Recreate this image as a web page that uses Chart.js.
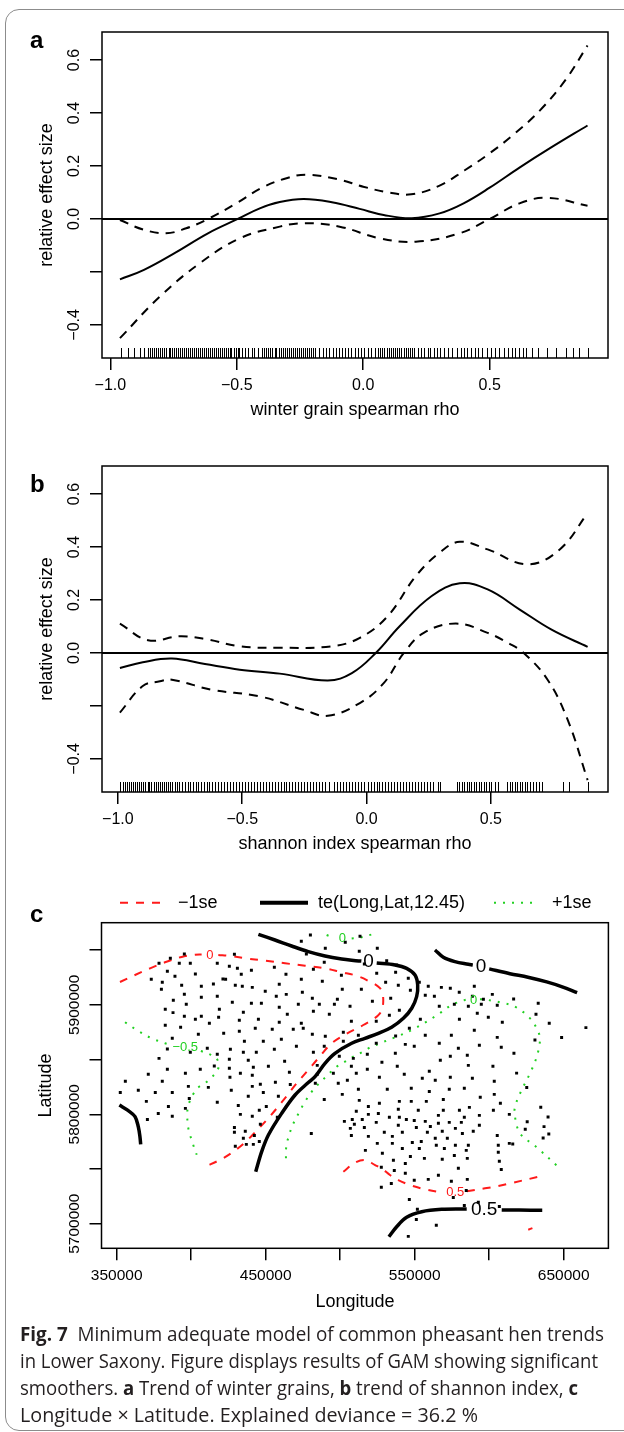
<!DOCTYPE html>
<html>
<head>
<meta charset="utf-8">
<script src="https://cdn.jsdelivr.net/npm/chart.js@4.4.1/dist/chart.umd.min.js"></script>
<style>
  html, body { margin: 0; padding: 0; background: #fff; }
  #page { position: relative; width: 624px; height: 1432px; overflow: hidden; }
  #frame { position: absolute; left: 5px; top: 9px; width: 700px; height: 1422px; box-sizing: border-box;
           border: 1.5px solid #8c8c8c; border-radius: 14px; }
  canvas { position: absolute; left: 0; }
  .tag { position: absolute; left: 30px; font: bold 24px "Liberation Sans", Arial, sans-serif; line-height: 24px; }
  .cap { position: absolute; left: 20px; font-family: "Open Sans", "Noto Sans", sans-serif; font-size: 20px;
         line-height: 20px; white-space: nowrap; transform-origin: 0 50%; color: #231f20; }
  .cap b { font-weight: 700; }
</style>
</head>
<body>
<div id="page">
  <div id="frame"></div>
  <canvas id="chartA" width="624" height="430" style="top:0"></canvas>
  <canvas id="chartB" width="624" height="430" style="top:434px"></canvas>
  <canvas id="chartC" width="624" height="460" style="top:860px"></canvas>
  <div class="tag" style="top:28px">a</div>
  <div class="tag" style="top:472px">b</div>
  <div class="tag" style="top:902px">c</div>
  <div class="cap" id="cap1" style="top:1324px"><b>Fig. 7</b>&nbsp; Minimum adequate model of common pheasant hen trends</div>
  <div class="cap" id="cap2" style="top:1351px">in Lower Saxony. Figure displays results of GAM showing significant</div>
  <div class="cap" id="cap3" style="top:1378px">smoothers. <b>a</b> Trend of winter grains, <b>b</b> trend of shannon index, <b>c</b></div>
  <div class="cap" id="cap4" style="top:1405px">Longitude × Latitude. Explained deviance = 36.2 %</div>
</div>
<script>
// ---- panel a: winter grain spearman rho ----
const xTicksEffect = [-1.0, -0.5, 0.0, 0.5];
const yTicksEffect = [-0.4, -0.2, 0.0, 0.2, 0.4, 0.6];

const winterFit = [[-0.962,-0.228],[-0.867,-0.192],[-0.741,-0.126],[-0.614,-0.054],[-0.496,0.0],[-0.409,0.040],
  [-0.330,0.064],[-0.235,0.075],[-0.124,0.063],[-0.014,0.038],[0.081,0.015],[0.192,0.003],[0.302,0.021],
  [0.397,0.059],[0.500,0.118],[0.618,0.194],[0.745,0.271],[0.887,0.353]];
const winterUpper = [[-0.962,-0.004],[-0.87,-0.040],[-0.78,-0.054],[-0.70,-0.035],[-0.614,0.0],[-0.50,0.060],
  [-0.40,0.118],[-0.30,0.155],[-0.22,0.167],[-0.10,0.150],[0.0,0.122],[0.10,0.100],[0.19,0.093],[0.30,0.125],
  [0.40,0.183],[0.50,0.248],[0.60,0.323],[0.70,0.411],[0.80,0.525],[0.887,0.655]];
const winterLower = [[-0.962,-0.450],[-0.804,-0.293],[-0.646,-0.167],[-0.488,-0.073],[-0.330,-0.029],[-0.235,-0.016],
  [-0.093,-0.029],[0.065,-0.073],[0.208,-0.086],[0.381,-0.054],[0.5,0.0],[0.618,0.059],[0.729,0.080],[0.887,0.050]];
const winterRug = [-0.958,-0.930,-0.907,-0.884,-0.866,-0.851,-0.843,-0.836,-0.826,-0.818,-0.811,-0.802,-0.795,-0.786,
  -0.779,-0.770,-0.763,-0.755,-0.747,-0.739,-0.733,-0.724,-0.716,-0.708,-0.701,-0.692,-0.684,-0.677,-0.669,-0.661,
  -0.652,-0.646,-0.637,-0.630,-0.621,-0.614,-0.606,-0.598,-0.590,-0.583,-0.575,-0.567,-0.560,-0.551,-0.544,-0.536,
  -0.528,-0.521,-0.512,-0.505,-0.497,-0.490,-0.478,-0.466,-0.455,-0.441,-0.430,-0.418,-0.402,-0.392,-0.384,-0.375,
  -0.367,-0.359,-0.350,-0.343,-0.335,-0.326,-0.319,-0.311,-0.302,-0.295,-0.287,-0.278,-0.271,-0.262,-0.255,-0.247,
  -0.238,-0.231,-0.223,-0.214,-0.207,-0.199,-0.190,-0.176,-0.160,-0.148,-0.135,-0.120,-0.108,-0.095,-0.082,-0.072,
  -0.060,-0.047,-0.032,-0.020,-0.008,0.004,0.018,0.031,0.046,0.060,0.068,0.076,0.084,0.093,0.101,0.110,0.118,0.126,
  0.135,0.143,0.151,0.160,0.168,0.176,0.185,0.193,0.202,0.215,0.229,0.241,0.255,0.266,0.280,0.292,0.305,0.318,0.334,
  0.352,0.370,0.385,0.398,0.412,0.426,0.441,0.455,0.470,0.488,0.506,0.520,0.538,0.556,0.573,0.590,0.602,0.615,0.631,
  0.645,0.668,0.690,0.726,0.762,0.800,0.830,0.855,0.887];

// ---- panel b: shannon index spearman rho ----
const shannonFit = [[-0.992,-0.057],[-0.90,-0.035],[-0.783,-0.021],[-0.65,-0.042],[-0.51,-0.063],[-0.349,-0.078],
  [-0.156,-0.104],[-0.059,-0.076],[0.037,0.0],[0.133,0.101],[0.262,0.215],[0.375,0.263],[0.487,0.240],[0.616,0.164],
  [0.744,0.088],[0.889,0.023]];
const shannonUpper = [[-0.992,0.111],[-0.879,0.048],[-0.751,0.063],[-0.638,0.051],[-0.510,0.025],[-0.349,0.020],
  [-0.14,0.025],[-0.027,0.057],[0.085,0.139],[0.198,0.290],[0.294,0.379],[0.375,0.420],[0.487,0.391],[0.648,0.335],
  [0.777,0.391],[0.889,0.528]];
const shannonLower = [[-0.992,-0.225],[-0.90,-0.125],[-0.831,-0.107],[-0.783,-0.101],[-0.622,-0.139],[-0.429,-0.164],
  [-0.252,-0.215],[-0.156,-0.237],[-0.027,-0.189],[0.069,-0.114],[0.150,0.0],[0.230,0.076],[0.359,0.111],[0.487,0.076],
  [0.568,0.038],[0.632,0.0],[0.728,-0.101],[0.809,-0.253],[0.889,-0.480]];
const shannonRug = [-0.990,-0.981,-0.973,-0.965,-0.956,-0.948,-0.940,-0.931,-0.923,-0.915,-0.906,-0.898,-0.890,-0.881,
  -0.873,-0.865,-0.856,-0.848,-0.840,-0.831,-0.823,-0.815,-0.806,-0.798,-0.790,-0.781,-0.772,-0.763,-0.753,-0.742,
  -0.731,-0.720,-0.709,-0.698,-0.687,-0.676,-0.665,-0.654,-0.643,-0.632,-0.621,-0.610,-0.598,-0.586,-0.574,-0.562,
  -0.550,-0.538,-0.526,-0.514,-0.502,-0.490,-0.478,-0.466,-0.454,-0.442,-0.430,-0.418,-0.406,-0.394,-0.382,-0.370,
  -0.358,-0.346,-0.334,-0.322,-0.310,-0.298,-0.286,-0.274,-0.262,-0.250,-0.238,-0.226,-0.214,-0.202,-0.190,-0.178,
  -0.166,-0.150,-0.132,-0.120,-0.108,-0.096,-0.084,-0.072,-0.060,-0.048,-0.036,-0.024,-0.012,0.004,0.016,0.028,0.040,
  0.052,0.064,0.076,0.088,0.100,0.112,0.124,0.136,0.148,0.160,0.172,0.184,0.196,0.208,0.220,0.232,0.244,0.256,0.268,
  0.286,0.295,0.362,0.372,0.382,0.392,0.402,0.412,0.422,0.432,0.442,0.452,0.462,0.472,0.482,0.492,0.502,0.515,0.528,
  0.566,0.576,0.586,0.596,0.606,0.616,0.626,0.636,0.646,0.656,0.668,0.680,0.693,0.706,0.790,0.815,0.889];

// ---- panel c: te(Long,Lat) contours, in km ----
const lonTicks = [350000, 400000, 450000, 500000, 550000, 600000, 650000];
const lonLabelled = [350000, 450000, 550000, 650000];
const latTicks = [5700000, 5750000, 5800000, 5850000, 5900000, 5950000];
const latLabelled = [5700000, 5800000, 5900000];

const teCentralA = [[445.1,5964.5],[456.2,5959.3],[467.4,5953.8],[478.6,5948.7],[489.8,5944.7],[501.0,5941.9],[509.0,5940.6],[514.2,5940.0]];
const teCentralB = [[524.5,5938.2],[536.8,5936.5],[544.6,5933.4],[550.2,5927.3],[552.0,5918.2],[551.3,5907.5],[548.0,5896.9],
  [542.4,5887.7],[534.5,5879.5],[525.6,5874.0],[516.6,5869.4],[507.7,5864.9],[496.5,5855.7],[489.8,5846.6],[483.1,5834.4],
  [478.6,5829.0],[469.7,5817.6],[460.7,5800.8],[451.8,5781.0],[447.3,5765.8],[443.3,5747.5]];
const teEastA = [[563.6,5950.2],[569.2,5943.5],[577.0,5939.5],[586.0,5937.1],[589.0,5936.4]];
const teEastB = [[600.0,5932.9],[613.9,5928.5],[626.0,5925.3],[638.6,5921.0],[649.0,5916.5],[659.0,5911.1]];
const teWest = [[351.8,5808.4],[357.8,5803.3],[362.3,5797.8],[364.5,5788.6],[365.6,5779.5],[366.1,5772.5]];
const teSouthA = [[532.7,5688.1],[537.9,5697.2],[544.6,5705.8],[554.7,5710.9],[568.1,5713.1],[584.9,5713.4]];
const teSouthB = [[608.4,5712.6],[620.0,5712.4],[635.6,5712.3]];

const lowNorthA = [[352.2,5920.9],[362.3,5927.3],[372.4,5933.4],[382.4,5938.9],[393.6,5943.8],[402.6,5945.9],[407.0,5946.1]];
const lowNorthB = [[418.2,5945.6],[426.0,5944.7],[436.1,5942.6],[449.5,5940.4],[463.0,5938.0],[476.4,5935.8],[489.8,5933.4],
  [501.0,5929.8],[510.0,5927.0],[517.8,5922.7],[526.7,5915.2],[528.9,5904.5],[526.7,5892.3],[515.5,5881.6],[504.3,5873.7],
  [494.3,5864.9],[485.3,5851.2],[478.6,5840.5],[470.8,5828.3],[464.1,5816.7],[457.4,5805.4],[450.6,5794.7],[443.9,5785.0],
  [436.6,5774.9],[428.3,5765.8],[420.4,5759.1],[410.4,5752.7],[408.1,5751.5]];
const lowSouthA = [[502.1,5747.5],[509.9,5755.7],[516.6,5758.2],[523.4,5753.6],[527.8,5750.6],[533.4,5744.5],[539.0,5739.9],
  [546.8,5735.3],[556.9,5731.4],[565.9,5729.2],[569.5,5729.0]];
const lowSouthB = [[585.0,5729.6],[597.2,5732.3],[606.1,5734.4],[613.9,5736.8],[635.4,5743.6]];
const lowTiny = [[626.2,5694.5],[629.0,5696.0]];

const upNorthA = [[490.9,5963.9],[495.4,5961.5]];
const upNorthB = [[507.7,5960.6],[513.3,5961.5],[519.5,5963.7],[523.0,5965.0]];
const upWestA = [[355.6,5884.1],[364.5,5876.1],[373.5,5869.4],[382.4,5864.9],[386.0,5863.5]];
const upWestB = [[406.5,5857.8],[411.9,5855.1],[416.4,5851.8],[418.7,5845.7],[417.1,5839.0],[413.7,5833.8],[409.5,5828.7],
  [404.8,5824.6],[401.4,5818.5],[399.2,5812.4],[397.6,5805.4],[397.4,5798.4],[397.6,5791.1],[398.7,5783.5],[400.3,5776.5],
  [401.9,5769.8],[403.7,5763.0]];
const upEastA = [[463.6,5759.7],[463.6,5767.3],[464.3,5774.3],[465.9,5781.6],[467.4,5788.0],[469.7,5794.7],[472.3,5801.4],
  [474.8,5807.8],[477.5,5813.9],[480.4,5819.7],[483.7,5825.2],[487.6,5830.5],[492.0,5836.5],[497.6,5843.5],[503.2,5848.1],
  [508.8,5852.7],[514.4,5856.6],[518.9,5860.3],[527.8,5865.5],[537.9,5870.9],[548.0,5877.0],[556.9,5883.8],[565.9,5891.4],
  [574.8,5899.9],[583.8,5904.5],[585.3,5904.8]];
const upEastB = [[593.8,5905.1],[596.1,5905.1],[602.8,5903.6],[608.4,5902.0],[617.3,5898.3],[627.4,5887.7],[632.9,5875.5],
  [634.1,5867.9],[631.9,5852.6],[627.4,5837.5],[621.8,5822.2],[618.0,5810.0],[617.0,5800.9],[620.7,5782.6],[631.4,5770.4],
  [646.2,5752.1]];

const contourLabels = [
  {text: '0', lon: 519.0, lat: 5939.0, kind: 'te'},
  {text: '0', lon: 594.5, lat: 5934.6, kind: 'te'},
  {text: '0.5', lon: 596.6, lat: 5712.5, kind: 'te'},
  {text: '0', lon: 412.6, lat: 5945.6, kind: 'low'},
  {text: '0.5', lon: 577.2, lat: 5728.8, kind: 'low'},
  {text: '0', lon: 501.5, lat: 5960.8, kind: 'up'},
  {text: '−0.5', lon: 396.0, lat: 5860.9, kind: 'up'},
  {text: '0', lon: 589.5, lat: 5904.5, kind: 'up'}
];

// sampling sites (km)
const sites = [
  [395.4,5946.5],[386.0,5942.6],[378.4,5938.0],[392.0,5938.0],[399.4,5938.0],[417.5,5938.0],[384.0,5930.7],[402.8,5928.2],
  [373.2,5923.4],[389.1,5926.1],[380.6,5920.6],[393.6,5917.9],[406.8,5917.0],[414.9,5919.1],[421.3,5923.7],[380.0,5914.2],
  [395.4,5909.7],[406.8,5906.9],[417.5,5907.8],[388.0,5904.2],[396.7,5900.5],[382.6,5896.0],[418.9,5896.0],[387.8,5892.9],
  [395.4,5889.5],[402.8,5886.8],[406.8,5889.5],[418.4,5888.6],[412.2,5883.1],[382.6,5881.3],[392.9,5879.5],[404.8,5873.1],
  [421.8,5874.0],[387.3,5869.4],[384.0,5859.7],[410.8,5860.3],[399.4,5856.6],[417.5,5854.8],[378.4,5851.1],[415.5,5844.1],
  [384.0,5841.1],[406.1,5841.1],[371.2,5836.5],[396.1,5837.4],[380.6,5830.1],[355.8,5830.1],
  [398.1,5825.5],[411.5,5824.6],[352.4,5820.0],[364.5,5821.9],[375.9,5820.0],[387.3,5820.0],[398.7,5814.5],[369.9,5811.8],
  [384.7,5807.2],[396.1,5805.4],[417.5,5810.9],[377.9,5800.8],[387.3,5798.1],[370.6,5795.3],
  [480.0,5963.9],[473.9,5958.1],[503.4,5957.2],[513.3,5962.7],[490.0,5951.7],[477.3,5946.5],[512.8,5949.0],[489.3,5938.9],
  [516.2,5937.4],[429.0,5946.2],[425.6,5935.2],[431.0,5933.4],[440.4,5931.6],[455.8,5934.3],[482.0,5932.5],[433.6,5927.9],
  [463.6,5927.9],[500.8,5927.0],[423.1,5923.4],[473.9,5923.4],[488.0,5921.5],[429.6,5917.9],[434.3,5917.0],[441.0,5916.0],
  [459.1,5918.8],[449.7,5912.4],[463.8,5909.6],[474.6,5911.5],[501.4,5914.2],[514.2,5914.2],[457.1,5907.8],[481.3,5906.0],
  [498.1,5905.1],[427.6,5902.3],[440.4,5901.4],[447.1,5901.4],[459.1,5897.8],[471.9,5900.5],[486.0,5900.5],[496.1,5900.5],
  [506.6,5898.7],[435.0,5893.2],[482.0,5894.1],[492.7,5891.4],[464.5,5891.4],[432.3,5885.9],[445.1,5886.8],[459.1,5884.1],
  [507.5,5885.0],[473.9,5883.1],[443.0,5878.6],[454.4,5877.7],[468.5,5877.7],[475.2,5878.6],[432.3,5875.8],[481.3,5873.2],
  [490.0,5871.3],[502.1,5874.9],[512.2,5872.2],[435.7,5866.7],[448.4,5866.7],[460.5,5868.5],[470.6,5862.1],[489.3,5862.1],
  [502.1,5866.7],[426.3,5859.4],[435.0,5856.6],[443.7,5856.6],[455.8,5859.4],[482.0,5856.6],[499.4,5853.0],[508.8,5851.1],
  [425.6,5850.2],[438.3,5849.3],[462.7,5848.4],[425.6,5842.0],[441.7,5842.9],[451.8,5843.8],[465.9,5838.4],[484.6,5844.7],
  [507.5,5843.8],[433.0,5837.4],[441.0,5835.6],[426.0,5833.8],[456.5,5829.2],[446.4,5827.4],[498.7,5828.3],[504.8,5831.0],
  [510.8,5837.4],[484.6,5836.5],[495.4,5837.4],
  [524.9,5951.7],[531.2,5940.4],[537.9,5936.5],[524.5,5928.8],[537.2,5929.8],[530.5,5920.6],[545.7,5924.3],[553.1,5920.6],
  [539.0,5917.9],[547.1,5913.3],[559.1,5917.0],[567.9,5916.0],[573.9,5915.1],[579.9,5911.5],[590.0,5917.0],[557.1,5908.7],
  [563.2,5907.8],[521.6,5903.3],[533.9,5906.0],[588.7,5907.8],[596.1,5905.1],[602.1,5909.6],[566.5,5898.7],[576.6,5900.5],
  [586.0,5898.7],[594.7,5900.5],[605.4,5899.6],[539.7,5895.0],[533.0,5890.5],[592.0,5892.3],[599.4,5888.6],[524.2,5885.0],
  [553.8,5886.8],[580.0,5886.8],[608.8,5884.1],[546.4,5878.6],[590.0,5876.7],[537.2,5871.6],[557.1,5872.2],[574.6,5872.2],
  [605.4,5870.3],[543.7,5863.9],[549.7,5862.1],[566.5,5864.9],[593.4,5863.0],[608.1,5861.2],[524.2,5864.9],[518.2,5854.8],
  [537.0,5855.7],[579.3,5860.3],[585.3,5853.9],[528.0,5847.5],[538.3,5843.8],[567.2,5849.3],[573.9,5853.0],[602.5,5843.8],
  [518.2,5841.1],[586.0,5844.7],[526.3,5833.8],[543.0,5836.5],[559.8,5839.3],[555.1,5832.9],[563.8,5831.0],[573.9,5833.8],
  [588.7,5832.9],[603.4,5830.1],
  [426.9,5821.9],[441.0,5825.5],[466.5,5827.3],[483.3,5828.3],[438.3,5816.4],[448.4,5820.0],[458.5,5816.4],[431.6,5808.1],
  [450.4,5807.2],[445.7,5803.6],[433.0,5799.9],[441.0,5798.1],[457.8,5797.2],[446.4,5790.8],[429.0,5788.0],[429.0,5783.5],
  [436.3,5784.4],[442.4,5780.7],[435.0,5778.0],[437.0,5772.5],[441.7,5772.5],[445.7,5775.2],[429.6,5770.7],[480.6,5782.5],
  [489.3,5813.6],[501.4,5818.2],[512.2,5822.8],[512.8,5812.7],[510.8,5802.7],[502.8,5793.5],[508.1,5795.3],[514.8,5795.3],
  [509.5,5790.8],[506.8,5787.1],[516.2,5788.0],[507.5,5780.7],
  [531.6,5822.8],[547.7,5823.7],[573.2,5822.8],[583.3,5823.7],[559.8,5820.9],[603.4,5818.2],[594.0,5815.5],[539.7,5811.8],
  [526.3,5810.0],[547.7,5811.8],[557.8,5811.8],[569.2,5813.6],[607.5,5810.0],[518.9,5807.2],[586.7,5806.3],[602.8,5803.6],
  [539.0,5804.5],[552.4,5803.6],[569.2,5803.6],[580.0,5803.6],[518.9,5799.9],[525.6,5800.8],[533.0,5797.2],[539.7,5797.2],
  [544.4,5795.3],[549.7,5794.4],[557.1,5793.5],[565.9,5799.0],[583.3,5797.2],[593.4,5799.0],[613.5,5799.9],[524.2,5792.6],
  [539.0,5789.9],[551.1,5788.0],[560.5,5788.9],[565.9,5791.7],[573.2,5792.6],[581.3,5792.6],[593.4,5789.9],[529.6,5783.5],
  [541.7,5783.5],[558.5,5783.5],[568.5,5784.4],[577.3,5787.1],[582.0,5782.5],[589.3,5784.4],[605.4,5780.7],[518.9,5779.8],
  [535.0,5779.8],[563.8,5778.0],[571.9,5778.0],[554.4,5775.2],[524.9,5773.4],[535.0,5773.4],[548.4,5774.3],[564.5,5771.6],
  [569.9,5768.8],[577.3,5771.6],[586.0,5771.6],[606.1,5771.6],[613.5,5773.4],[516.9,5767.0],[541.7,5768.8],[553.1,5768.8],
  [584.6,5767.0],[606.1,5765.2],[528.3,5764.3],[547.1,5761.5],[556.5,5759.7],[568.5,5758.8],[576.6,5762.4],[585.3,5759.7],
  [606.8,5757.0],[535.7,5757.9],[543.7,5755.1],[608.1,5749.6],[527.6,5751.5],[536.3,5748.7],[579.3,5750.6],[543.7,5746.0],
  [565.9,5744.2],[549.7,5739.6],[559.1,5740.5],[574.6,5738.7],[585.3,5740.5],[534.3,5736.8],[527.6,5733.2],[584.6,5730.4],
  [546.4,5722.2],[575.9,5724.0],[551.8,5713.1],[583.3,5716.7],[592.7,5719.5],[606.8,5715.8],[551.1,5703.9],[564.5,5698.5],
  [545.7,5688.4],
  [616.4,5905.4],[632.9,5901.4],[631.4,5891.4],[640.3,5883.2],[630.7,5867.9],[648.6,5870.1],[664.9,5879.2],[618.4,5837.6],
  [625.2,5824.4],[616.6,5855.7],[634.6,5806.4],[639.5,5797.5],[636.8,5788.7],[640.0,5782.0],[636.2,5778.3],[625.5,5793.2],
  [624.2,5786.3],[615.8,5772.9]
];

// ---------------------------------------------------------------
Chart.defaults.font.family = '"Liberation Sans", Arial, Helvetica, sans-serif';
Chart.defaults.color = '#000';

const RED = '#ff1a1a';
const GREEN = '#22d022';
const minus = s => s.replace('-', '\u2212');
const pts = arr => arr.map(p => ({x: p[0], y: p[1]}));
const kmPts = arr => arr.map(p => ({x: p[0] * 1000, y: p[1] * 1000}));

// box, rug and zero line as R's plot.gam draws them
const rFrame = {
  id: 'rFrame',
  afterDatasetsDraw(chart, args, opts) {
    const {ctx, chartArea: a, scales} = chart;
    ctx.save();
    ctx.strokeStyle = '#000';
    if (opts.zeroLine) {
      const y = scales.y.getPixelForValue(0);
      ctx.lineWidth = 2;
      ctx.beginPath();
      ctx.moveTo(a.left, y);
      ctx.lineTo(a.right, y);
      ctx.stroke();
    }
    if (opts.rug) {
      ctx.lineWidth = 1;
      ctx.beginPath();
      opts.rug.forEach(v => {
        const x = Math.round(scales.x.getPixelForValue(v)) + 0.5;
        ctx.moveTo(x, a.bottom);
        ctx.lineTo(x, a.bottom - 10);
      });
      ctx.stroke();
    }
    ctx.lineWidth = 1.5;
    ctx.strokeRect(a.left, a.top, a.right - a.left, a.bottom - a.top);
    ctx.restore();
  }
};

function axisGrid() {
  return {drawOnChartArea: false, drawTicks: true, tickLength: 12, color: '#000', lineWidth: 1.5};
}

function effectChart(id, xTitle, xMin, xMax, fit, upper, lower, rug) {
  const dashed = data => ({data: pts(data), showLine: true, borderColor: '#000', borderWidth: 2,
    borderDash: [9, 7], pointRadius: 0, tension: 0.4});
  return new Chart(document.getElementById(id), {
    type: 'scatter',
    data: {
      datasets: [
        {data: pts(fit), showLine: true, borderColor: '#000', borderWidth: 2, pointRadius: 0, tension: 0.4},
        dashed(upper),
        dashed(lower)
      ]
    },
    options: {
      responsive: false,
      animation: false,
      layout: {padding: {top: 32, right: 16, left: 0, bottom: 0}},
      plugins: {legend: {display: false}, tooltip: {enabled: false}, rFrame: {zeroLine: true, rug: rug}},
      scales: {
        x: {
          type: 'linear', min: xMin, max: xMax,
          afterBuildTicks: s => { s.ticks = xTicksEffect.map(v => ({value: v})); },
          afterFit: s => { s.height = 72; },
          grid: axisGrid(), border: {display: false},
          ticks: {autoSkip: false, maxRotation: 0, padding: 6, font: {size: 16},
                  callback: v => minus(v.toFixed(1))},
          title: {display: true, text: xTitle, font: {size: 18}, padding: {top: 0, bottom: 9}}
        },
        y: {
          type: 'linear', min: -0.525, max: 0.706,
          afterBuildTicks: s => { s.ticks = yTicksEffect.map(v => ({value: v})); },
          afterFit: s => { s.width = 102; },
          grid: axisGrid(), border: {display: false},
          ticks: {autoSkip: false, minRotation: 90, maxRotation: 90, crossAlign: 'center', padding: 0,
                  font: {size: 16},
                  callback: v => Math.abs(v + 0.2) < 1e-9 ? '' : minus(v.toFixed(1))},
          title: {display: true, text: 'relative effect size', font: {size: 18}, padding: {top: 36, bottom: 0}}
        }
      }
    },
    plugins: [rFrame]
  });
}

effectChart('chartA', 'winter grain spearman rho', -1.033, 0.968, winterFit, winterUpper, winterLower, winterRug);
effectChart('chartB', 'shannon index spearman rho', -1.064, 0.971, shannonFit, shannonUpper, shannonLower, shannonRug);

// ---- panel c ----
const contourText = {
  id: 'contourText',
  afterDatasetsDraw(chart) {
    const {ctx, scales} = chart;
    const style = {te: ['#000', 19], low: [RED, 13], up: [GREEN, 13]};
    ctx.save();
    ctx.textAlign = 'center';
    ctx.textBaseline = 'middle';
    contourLabels.forEach(l => {
      const [color, size] = style[l.kind];
      ctx.fillStyle = color;
      ctx.font = size + 'px "Liberation Sans", Arial, sans-serif';
      ctx.fillText(l.text, scales.x.getPixelForValue(l.lon * 1000), scales.y.getPixelForValue(l.lat * 1000));
    });
    ctx.restore();
  }
};

const seLegend = {
  id: 'seLegend',
  afterDraw(chart) {
    const {ctx, chartArea: a} = chart;
    const y = a.top - 20;
    const items = [
      {label: '\u22121se', color: RED, width: 2, dash: [8, 8], x0: 120, x1: 168, tx: 178},
      {label: 'te(Long,Lat,12.45)', color: '#000', width: 4, dash: [], x0: 260, x1: 308, tx: 318},
      {label: '+1se', color: GREEN, width: 2, dash: [2, 7], x0: 494, x1: 537, tx: 552}
    ];
    ctx.save();
    ctx.font = '18px "Liberation Sans", Arial, sans-serif';
    ctx.textBaseline = 'middle';
    items.forEach(it => {
      ctx.strokeStyle = it.color;
      ctx.lineWidth = it.width;
      ctx.setLineDash(it.dash);
      ctx.beginPath();
      ctx.moveTo(it.x0, y);
      ctx.lineTo(it.x1, y);
      ctx.stroke();
      ctx.fillStyle = '#000';
      ctx.fillText(it.label, it.tx, y);
    });
    ctx.restore();
  }
};

const contour = (data, color, width, dash) => ({data: kmPts(data), showLine: true, borderColor: color,
  borderWidth: width, borderDash: dash, pointRadius: 0, tension: 0.35, borderCapStyle: 'butt'});

new Chart(document.getElementById('chartC'), {
  type: 'scatter',
  data: {
    datasets: [
      {data: kmPts(sites), pointStyle: 'rect', pointRadius: 2.1, backgroundColor: '#000', borderWidth: 0},
      contour(teCentralA, '#000', 3.5, []), contour(teCentralB, '#000', 3.5, []),
      contour(teEastA, '#000', 3.5, []), contour(teEastB, '#000', 3.5, []),
      contour(teWest, '#000', 3.5, []), contour(teSouthA, '#000', 3.5, []), contour(teSouthB, '#000', 3.5, []),
      contour(lowNorthA, RED, 2, [8, 8]), contour(lowNorthB, RED, 2, [8, 8]),
      contour(lowSouthA, RED, 2, [8, 8]), contour(lowSouthB, RED, 2, [8, 8]), contour(lowTiny, RED, 2, []),
      contour(upNorthA, GREEN, 2, [2, 7]), contour(upNorthB, GREEN, 2, [2, 7]),
      contour(upWestA, GREEN, 2, [2, 7]), contour(upWestB, GREEN, 2, [2, 7]),
      contour(upEastA, GREEN, 2, [2, 7]), contour(upEastB, GREEN, 2, [2, 7])
    ]
  },
  options: {
    responsive: false,
    animation: false,
    layout: {padding: {top: 62.7, right: 15.6, left: 0, bottom: 0}},
    plugins: {legend: {display: false}, tooltip: {enabled: false}, rFrame: {}},
    scales: {
      x: {
        type: 'linear', min: 339800, max: 680000,
        afterBuildTicks: s => { s.ticks = lonTicks.map(v => ({value: v})); },
        afterFit: s => { s.height = 71.7; },
        grid: axisGrid(), border: {display: false},
        ticks: {autoSkip: false, maxRotation: 0, padding: 6, font: {size: 15.5},
                callback: v => lonLabelled.includes(v) ? String(v) : ''},
        title: {display: true, text: 'Longitude', font: {size: 18}, padding: {top: 0, bottom: 7}}
      },
      y: {
        type: 'linear', min: 5677500, max: 5975100,
        afterBuildTicks: s => { s.ticks = latTicks.map(v => ({value: v})); },
        afterFit: s => { s.width = 101.5; },
        grid: axisGrid(), border: {display: false},
        ticks: {autoSkip: false, minRotation: 90, maxRotation: 90, crossAlign: 'center', padding: -15,
                font: {size: 15.5},
                callback: v => latLabelled.includes(v) ? String(v) : ''},
        title: {display: true, text: 'Latitude', font: {size: 18}, padding: {top: 35, bottom: 0}}
      }
    }
  },
  plugins: [rFrame, contourText, seLegend]
});

// caption lines squeezed to the measured line ends
const capLeft = 20;
const capRight = {cap1: 604, cap2: 598, cap3: 578, cap4: 478};
function fitCaption() {
  Object.keys(capRight).forEach(id => {
    const el = document.getElementById(id);
    el.style.transform = 'none';
    const w = el.getBoundingClientRect().width;
    el.style.transform = 'scaleX(' + ((capRight[id] - capLeft) / w) + ')';
  });
}
fitCaption();
if (document.fonts && document.fonts.ready) document.fonts.ready.then(fitCaption);
</script>
</body>
</html>
